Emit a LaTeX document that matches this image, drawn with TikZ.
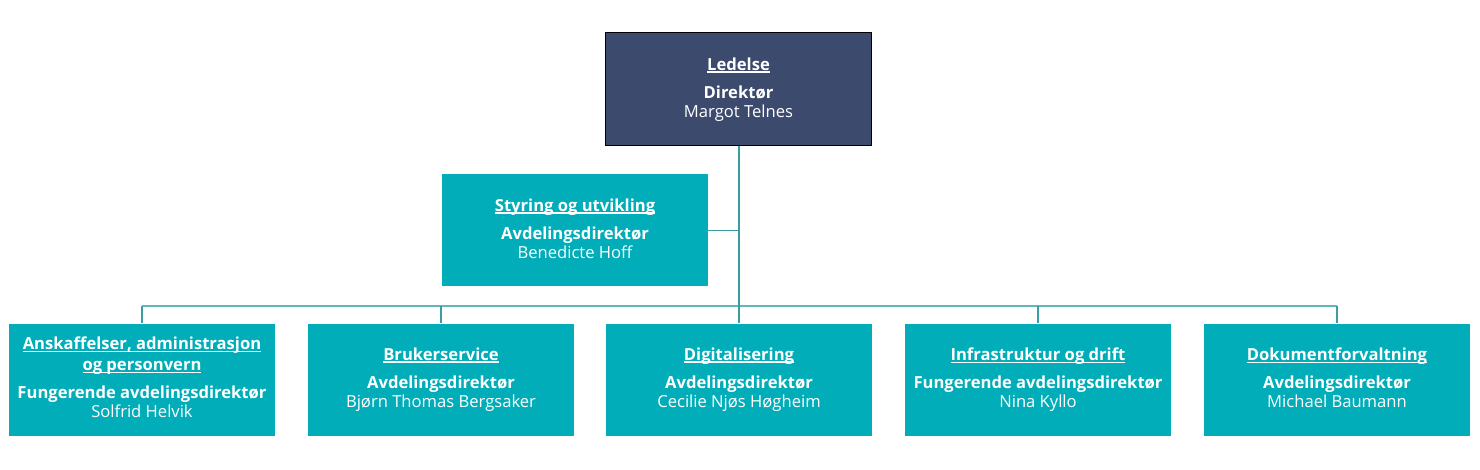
\documentclass[tikz,border=0pt]{standalone}
\usepackage{fontspec}
\setmainfont{Open Sans}
\definecolor{navy}{HTML}{3C4A6E}
\definecolor{tealbox}{HTML}{00ADB8}
\definecolor{barline}{HTML}{5FB8BC}
\definecolor{dropline}{HTML}{3A9DA2}
\newcommand{\ttl}[1]{\textbf{\setbox0\hbox{#1}\rlap{\rule[-2.6pt]{\wd0}{1.2pt}}\box0}}
\newcommand{\nm}[1]{#1\vphantom{gy}}
\begin{document}
\begin{tikzpicture}[x=1pt,y=-1pt,
  box/.style={rectangle, minimum width=266pt, minimum height=112pt, inner sep=0pt,
    fill=tealbox, text=white, align=center,
    font=\fontsize{16.6}{19.5}\selectfont},
  topbox/.style={box, fill=navy, draw=black, line width=1pt, minimum height=113pt},
  bar/.style={draw=barline, line width=1.6pt},
  drop/.style={draw=dropline, line width=1.4pt}]
\useasboundingbox (0,0) rectangle (1480,470);
\node[topbox] (top) at (738.5,89.5) {\ttl{Ledelse}\\[8.5pt]\textbf{Direktør}\\\nm{Margot Telnes}};
\node[box] (sty) at (575,230.5) {\ttl{Styring og utvikling}\\[8.5pt]\textbf{Avdelingsdirektør}\\\nm{Benedicte Hoff}};
\node[box] (b1) at (142,379.5) {\ttl{Anskaffelser, administrasjon}\\[1pt]\ttl{og personvern}\\[8.5pt]\textbf{Fungerende avdelingsdirektør}\\\nm{Solfrid Helvik}};
\node[box] (b2) at (441,379.5) {\ttl{Brukerservice}\\[8.5pt]\textbf{Avdelingsdirektør}\\\nm{Bjørn Thomas Bergsaker}};
\node[box] (b3) at (739,379.5) {\ttl{Digitalisering}\\[8.5pt]\textbf{Avdelingsdirektør}\\\nm{Cecilie Njøs Høgheim}};
\node[box] (b4) at (1038,379.5) {\ttl{Infrastruktur og drift}\\[8.5pt]\textbf{Fungerende avdelingsdirektør}\\\nm{Nina Kyllo}};
\node[box] (b5) at (1337,379.5) {\ttl{Dokumentforvaltning}\\[8.5pt]\textbf{Avdelingsdirektør}\\\nm{Michael Baumann}};
\coordinate (barpt) at (739,306);
\draw[bar] (b1.north |- barpt) -- (b5.north |- barpt);
\draw[drop] (top.south -| b3.north) -- (b3.north);
\draw[drop] (sty.east) -- (sty.east -| b3.north);
\foreach \n in {b1,b2,b4,b5} \draw[drop] (\n.north |- barpt) -- (\n.north);
\end{tikzpicture}
\end{document}
